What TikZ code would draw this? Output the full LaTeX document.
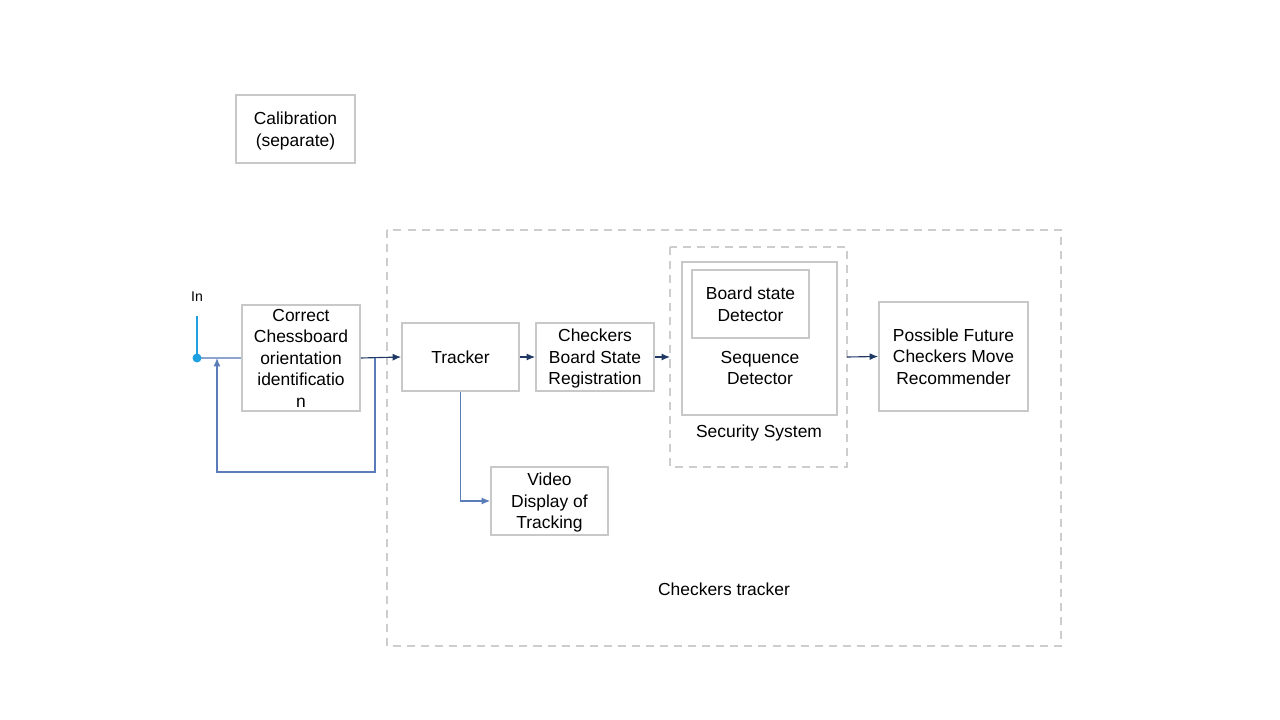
\documentclass[tikz,border=0pt]{standalone}
\usepackage{fontspec}
\setmainfont{Liberation Sans}
\usetikzlibrary{arrows.meta,positioning}
\definecolor{boxgray}{RGB}{200,200,200}
\definecolor{dashgray}{RGB}{205,205,205}
\definecolor{navy}{RGB}{32,56,100}
\definecolor{fbblue}{RGB}{90,125,185}
\definecolor{inblue}{RGB}{30,160,225}
\definecolor{inline}{RGB}{140,165,205}
\begin{document}
\begin{tikzpicture}[x=0.025cm,y=-0.025cm,font=\fontsize{12.4}{15.3}\selectfont]
\tikzset{blk/.style={draw=boxgray,line width=1.3pt,align=center,inner sep=2pt,text depth=0pt},
txt/.style={text depth=0pt},
grp/.style={draw=dashgray,line width=1.3pt,dash pattern=on 5.7pt off 4.3pt},
flow/.style={navy,line width=0.8pt,-{Latex[length=6pt,width=5pt]}},
back/.style={fbblue,line width=0.8pt,-{Latex[length=6pt,width=5pt]}}}
\useasboundingbox (0,0) rectangle (1280,720);
% groups
\draw[grp] (387,230) rectangle (1061,646);
\draw[grp] (670,247) rectangle (847,467);
\node[txt] (trklab) at (724,589) {Checkers tracker};
\node[txt] (seclab) at (759,431) {Security System};
% blocks
\node[blk,minimum width=119*0.025cm,minimum height=68*0.025cm] (calib) at (295.5,129) {Calibration\\(separate)};
\node[blk,minimum width=118*0.025cm,minimum height=106*0.025cm] (corr) at (301,358) {Correct\\Chessboard\\orientation\\identificatio\\n};
\node[blk,minimum width=117*0.025cm,minimum height=68*0.025cm] (trk) at (460.5,357) {Tracker};
\node[blk,minimum width=118*0.025cm,minimum height=68*0.025cm] (reg) at (595,357) {Checkers\\Board State\\Registration};
\node[blk,minimum width=155*0.025cm,minimum height=153*0.025cm] (seq) at (759.5,338.5) {};
\node[txt,align=center] (seqtxt) at (760,368) {Sequence\\Detector};
\node[blk,minimum width=117*0.025cm,minimum height=68*0.025cm] (bsd) at (750.5,304) {Board state\\Detector};
\node[blk,minimum width=149*0.025cm,minimum height=109*0.025cm] (fut) at (953.5,356.5) {Possible Future\\Checkers Move\\Recommender};
\node[blk,minimum width=117*0.025cm,minimum height=68*0.025cm] (vid) at (549.5,501) {Video\\Display of\\Tracking};
% input
\node (inlab) at (197,297) {\fontsize{10}{12}\selectfont In};
\coordinate (intop) at (197,316);
\coordinate (dot) at (197,358);
\draw[inblue,line width=0.8pt] (intop) -- (dot);
\draw[inline,line width=1pt] (dot) -- (corr.west);
\fill[inblue] (dot) circle (4.5);
% connectors
\draw[flow] (corr.east) -- (trk.west);
\draw[flow] (trk.east) -- (reg.west);
\draw[flow] (reg.east) -- (670,357);
\draw[flow] (847,357) -- (fut.west);
\coordinate (fbstart) at (375,358);
\draw[back] (fbstart) -- (375,472) -- (217,472) -- (217,358);
\draw[back] (trk.south) |- (vid.west);
\end{tikzpicture}
\end{document}
